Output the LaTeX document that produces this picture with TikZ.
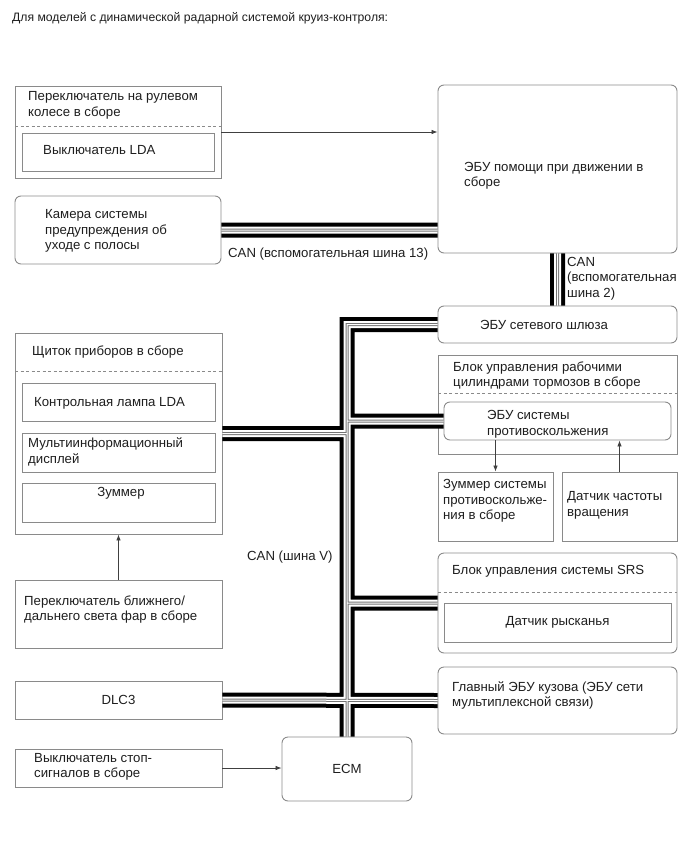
\documentclass[tikz,border=0pt]{standalone}
\usepackage{fontspec}
\setmainfont{Liberation Sans}
\usetikzlibrary{arrows.meta,fit,calc}
\definecolor{BoxGray}{HTML}{8A8A8A}
\definecolor{InkGray}{HTML}{1E1E1E}
\tikzset{
  unit box/.style={draw=BoxGray,line width=0.9pt,inner sep=0pt},
  round box/.style={unit box,rounded corners=6pt},
  part line/.style={draw=BoxGray,line width=0.8pt,dash pattern=on 3pt off 2.5pt},
  label text/.style={anchor=west,align=left,inner sep=0pt,text=InkGray,
    font=\fontsize{13.2}{15.5}\selectfont},
  mid text/.style={label text,anchor=center,align=center},
  signal arrow/.style={-{Latex[length=6pt,width=4.5pt]},draw=InkGray!85,line width=0.7pt},
  bus black/.style={line width=15pt,black,line join=miter},
  bus gap/.style={line width=7pt,white,line join=miter},
  bus wire/.style={line width=3pt,black!55,line join=miter},
  bus core/.style={line width=1pt,white,line join=miter}
}
\newcommand\canroute{(cam.east) -- (cam.east -| dsa.west)
  (dsa.south) -- (gw.north)
  (gw.west) -| (ecm.north)
  (cluster.east) -- (cluster.east -| ecm.north)
  (abs.west) -- (abs.west -| ecm.north)
  (srs.west) -- (srs.west -| ecm.north)
  (dlc.east) -- (body.west)}

\begin{document}
\begin{tikzpicture}[x=1pt,y=-1pt]
  \useasboundingbox (0,0) rectangle (690,853);
  \node[label text,font=\fontsize{12.2}{15}\selectfont] (title) at (12,18) {Для моделей с динамической радарной системой круиз-контроля:};

  % left column
  \node[unit box,fit={(15,86) (221,178)}] (sw) {};
  \draw[part line] (15,126) -- (221,126);
  \node[unit box,fit={(22,133) (214,171)}] (lda) {};
  \node[label text] at (28,105.5) {Переключатель на рулевом\\колесе в сборе};
  \node[label text] at (43,150) {Выключатель LDA};

  \node[round box,fit={(15,196) (221,264)}] (cam) {};
  \node[label text] at (45,231) {Камера системы\\предупреждения об\\уходе с полосы};

  \node[unit box,fit={(15,333) (222,534)}] (cluster) {};
  \draw[part line] (15,371) -- (222,371);
  \node[label text] at (32,352) {Щиток приборов в сборе};
  \node[unit box,fit={(22,383) (215,421)}] (lamp) {};
  \node[label text] at (34,403) {Контрольная лампа LDA};
  \node[unit box,fit={(22,433) (215,472)}] (mid) {};
  \node[label text] at (28,452) {Мультиинформационный\\дисплей};
  \node[unit box,fit={(22,483) (215,522)}] (bzr) {};
  \node[mid text] at (121,493) {Зуммер};

  \node[unit box,fit={(15,580) (222,648)}] (hl) {};
  \node[label text] at (24,609.5) {Переключатель ближнего/\\дальнего света фар в сборе};

  \node[unit box,fit={(15,681) (222,719)}] (dlc) {};
  \node[mid text] at (dlc) {DLC3};

  \node[unit box,fit={(15,749) (222,787)}] (stop) {};
  \node[label text] at (34,767) {Выключатель стоп-\\сигналов в сборе};

  \node[round box,fit={(282,737) (412,801)}] (ecm) {};
  \node[mid text] at (ecm) {ECM};

  % right column
  \node[round box,fit={(438,85) (677,253)}] (dsa) {};
  \node[label text] at (464,176) {ЭБУ помощи при движении в\\сборе};

  \node[round box,fit={(438,306) (677,343)}] (gw) {};
  \node[mid text] at (544,324.5) {ЭБУ сетевого шлюза};

  \node[unit box,fit={(438,355) (677,454)}] (brake) {};
  \draw[part line] (438,393) -- (677,393);
  \node[label text] at (453,375.5) {Блок управления рабочими\\цилиндрами тормозов в сборе};
  \node[round box,fit={(444,402) (671,440)}] (abs) {};
  \node[label text] at (487,424.5) {ЭБУ системы\\противоскольжения};

  \node[unit box,fit={(438,472) (553,541)}] (absbzr) {};
  \node[label text] at (443,501) {Зуммер системы\\противоскольже-\\ния в сборе};
  \node[unit box,fit={(562,472) (677,541)}] (spd) {};
  \node[label text] at (567,505.5) {Датчик частоты\\вращения};

  \node[round box,fit={(438,553) (677,653)}] (srs) {};
  \draw[part line] (438,592) -- (677,592);
  \node[label text] at (452,571) {Блок управления системы SRS};
  \node[unit box,fit={(444,603) (671,642)}] (yaw) {};
  \node[mid text] at (yaw) {Датчик рысканья};

  \node[round box,fit={(438,667) (677,734)}] (body) {};
  \node[label text] at (452,695.5) {Главный ЭБУ кузова (ЭБУ сети\\мультиплексной связи)};

  % CAN buses
  \foreach \lay in {bus black,bus gap,bus wire,bus core}
    \draw[\lay] \canroute;
  \node[label text] at (228,254) {CAN (вспомогательная шина 13)};
  \node[label text] at (567,278.5) {CAN\\(вспомогательная\\шина 2)};
  \node[label text] at (247,557) {CAN (шина V)};

  % signal lines
  \draw[signal arrow] (sw.east) -- (sw.east -| dsa.west);
  \draw[signal arrow] (hl.north) -- (cluster.south);
  \draw[signal arrow] (abs.south -| absbzr.north) -- (absbzr.north);
  \draw[signal arrow] (spd.north) -- (spd.north |- abs.south);
  \draw[signal arrow] (stop.east) -- (stop.east -| ecm.west);
\end{tikzpicture}
\end{document}
